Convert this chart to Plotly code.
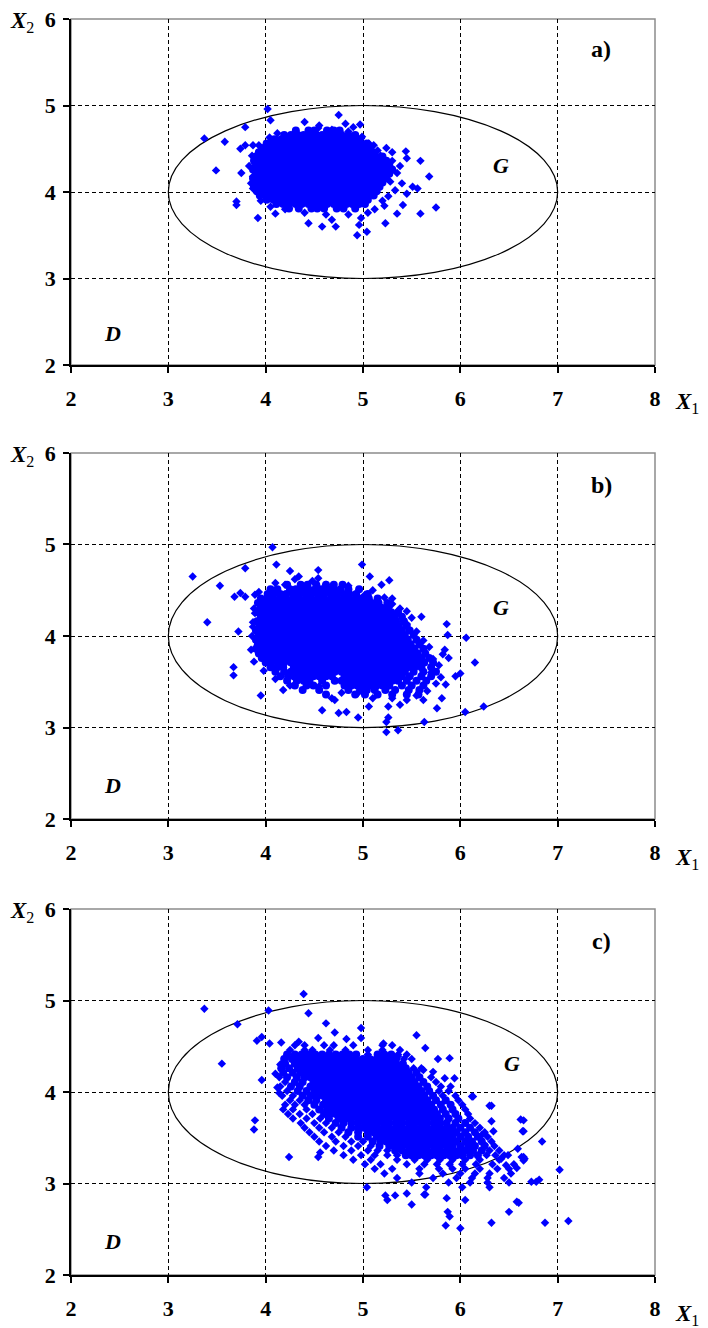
import plotly.graph_objects as go

# -----------------------------------------
# DATA
# -----------------------------------------
x_ticks = [2, 3, 4, 5, 6, 7, 8]
y_ticks = [2, 3, 4, 5, 6]
x_grid = [3, 4, 5, 6, 7]
y_grid = [3, 4, 5]

# region G is the ellipse inside this box
G_x = [3, 7]
G_y = [3, 5]

panel_names = ["a)", "b)", "c)"]

# panel a) - dense middle as rows (y, x positions), then the loose points
a_rows = [
    (4.71, [4.31, 4.44, 4.50, 4.63, 4.70, 4.76]),
    (4.66, [4.19, 4.26, 4.33, 4.39, 4.46, 4.52, 4.58, 4.65, 4.71, 4.78, 4.85, 4.92]),
    (4.61, [4.09, 4.16, 4.22, 4.29, 4.35, 4.42, 4.48, 4.55, 4.62, 4.68, 4.74, 4.81, 4.87, 4.94]),
    (4.56, [4.01, 4.07, 4.13, 4.20, 4.26, 4.33, 4.39, 4.46, 4.52, 4.59, 4.65, 4.72, 4.78, 4.85, 4.91, 4.98, 5.04]),
    (4.51, [3.96, 4.03, 4.10, 4.16, 4.23, 4.29, 4.36, 4.42, 4.49, 4.55, 4.62, 4.68, 4.75, 4.81, 4.88, 4.94, 5.01, 5.07]),
    (4.46, [3.93, 3.99, 4.06, 4.12, 4.19, 4.26, 4.32, 4.39, 4.45, 4.52, 4.58, 4.65, 4.71, 4.78, 4.84, 4.91, 4.97, 5.04, 5.10]),
    (4.41, [3.90, 3.96, 4.03, 4.09, 4.16, 4.22, 4.29, 4.35, 4.42, 4.48, 4.55, 4.61, 4.68, 4.74, 4.81, 4.87, 4.94, 5.00, 5.07, 5.13, 5.20]),
    (4.36, [3.88, 3.94, 4.01, 4.07, 4.14, 4.20, 4.27, 4.33, 4.40, 4.46, 4.53, 4.59, 4.66, 4.72, 4.79, 4.85, 4.92, 4.98, 5.05, 5.11, 5.18, 5.24]),
    (4.31, [3.90, 3.97, 4.03, 4.10, 4.16, 4.23, 4.29, 4.36, 4.42, 4.49, 4.55, 4.62, 4.68, 4.75, 4.81, 4.88, 4.94, 5.01, 5.07, 5.14, 5.20, 5.27]),
    (4.26, [3.87, 3.94, 4.00, 4.07, 4.13, 4.20, 4.26, 4.33, 4.39, 4.46, 4.52, 4.59, 4.65, 4.72, 4.78, 4.85, 4.91, 4.98, 5.04, 5.11, 5.17, 5.24, 5.30]),
    (4.21, [3.90, 3.97, 4.03, 4.10, 4.16, 4.23, 4.29, 4.36, 4.42, 4.49, 4.55, 4.62, 4.68, 4.75, 4.81, 4.88, 4.94, 5.01, 5.07, 5.14, 5.20, 5.27]),
    (4.16, [3.87, 3.94, 4.00, 4.07, 4.13, 4.20, 4.26, 4.33, 4.39, 4.46, 4.52, 4.59, 4.65, 4.72, 4.78, 4.85, 4.91, 4.98, 5.04, 5.11, 5.17, 5.24]),
    (4.11, [3.90, 3.97, 4.03, 4.10, 4.16, 4.23, 4.29, 4.36, 4.42, 4.49, 4.55, 4.62, 4.68, 4.75, 4.81, 4.88, 4.94, 5.01, 5.07, 5.14, 5.20]),
    (4.06, [3.88, 3.94, 4.00, 4.07, 4.13, 4.20, 4.26, 4.33, 4.39, 4.46, 4.52, 4.59, 4.65, 4.72, 4.78, 4.85, 4.91, 4.98, 5.04, 5.11, 5.17]),
    (4.01, [3.91, 3.97, 4.03, 4.10, 4.16, 4.23, 4.29, 4.36, 4.42, 4.49, 4.55, 4.62, 4.68, 4.75, 4.81, 4.88, 4.94, 5.01, 5.07, 5.14]),
    (3.96, [3.94, 4.00, 4.07, 4.13, 4.20, 4.26, 4.33, 4.39, 4.46, 4.52, 4.59, 4.65, 4.72, 4.78, 4.85, 4.91, 4.98, 5.04, 5.11]),
    (3.91, [4.01, 4.08, 4.14, 4.21, 4.27, 4.34, 4.40, 4.47, 4.53, 4.60, 4.66, 4.73, 4.79, 4.86, 4.92, 4.99, 5.05]),
    (3.86, [4.11, 4.18, 4.24, 4.31, 4.37, 4.44, 4.50, 4.57, 4.63, 4.70, 4.76, 4.83, 4.89, 4.96, 5.02]),
    (3.81, [4.24, 4.34, 4.47, 4.53, 4.60, 4.73, 4.80, 4.92]),
]
a_x = [4.02, 4.05, 3.37, 3.58, 3.79, 3.74, 3.79, 3.87, 3.49, 3.75, 3.70, 3.70, 3.92,
       4.75, 4.82, 4.90, 4.97, 4.40, 4.54, 4.99, 5.11, 5.24, 5.44, 5.45, 5.59, 5.68,
       5.51, 5.56, 5.75, 5.59, 5.41, 5.35, 5.23, 5.04, 4.94, 4.96, 4.72, 4.58, 4.44,
       4.68, 4.10, 3.87, 3.87,
       5.30, 5.35, 5.28, 5.33, 5.26, 5.20, 5.22, 5.12, 5.30, 5.15, 5.38, 5.40, 5.45,
       5.05, 4.98, 4.85, 4.62, 4.40, 4.20, 4.05, 3.95, 3.85, 3.83, 3.86, 3.93, 4.04,
       4.12, 4.55, 4.68, 4.85, 4.98, 5.06, 5.18]
a_y = [4.96, 4.83, 4.62, 4.58, 4.75, 4.50, 4.54, 4.54, 4.25, 4.22, 3.89, 3.85, 3.70,
       4.89, 4.79, 4.75, 4.78, 4.81, 4.74, 4.64, 4.54, 4.51, 4.47, 4.39, 4.36, 4.18,
       4.06, 4.04, 3.82, 3.75, 3.85, 3.75, 3.64, 3.54, 3.50, 3.62, 3.60, 3.60, 3.64,
       3.68, 3.75, 4.18, 4.04,
       4.36, 4.22, 4.12, 4.02, 3.95, 3.90, 3.84, 3.80, 4.46, 4.48, 4.30, 4.10, 3.98,
       3.76, 3.70, 3.74, 3.74, 3.76, 3.80, 3.83, 3.90, 4.10, 4.30, 4.42, 4.54, 4.63,
       4.68, 4.77, 4.72, 4.70, 4.62, 4.56, 4.42]

# panel b)
b_rows = [
    (4.56, [4.22, 4.36, 4.43, 4.52, 4.62, 4.70, 4.79]),
    (4.51, [4.05, 4.12, 4.25, 4.31, 4.38, 4.44, 4.51, 4.57, 4.64, 4.70, 4.77, 4.85, 4.96]),
    (4.46, [4.02, 4.08, 4.15, 4.21, 4.28, 4.34, 4.41, 4.47, 4.54, 4.60, 4.67, 4.73, 4.80, 4.86, 4.93, 5.05]),
    (4.41, [3.95, 4.02, 4.08, 4.15, 4.21, 4.28, 4.34, 4.41, 4.47, 4.54, 4.60, 4.67, 4.73, 4.80, 4.86, 4.93, 4.99, 5.06, 5.15]),
    (4.36, [3.92, 3.99, 4.05, 4.12, 4.18, 4.25, 4.31, 4.38, 4.44, 4.51, 4.57, 4.64, 4.70, 4.77, 4.83, 4.90, 4.96, 5.03, 5.09, 5.16, 5.25]),
    (4.31, [3.95, 4.02, 4.08, 4.15, 4.21, 4.28, 4.34, 4.41, 4.47, 4.54, 4.60, 4.67, 4.73, 4.80, 4.86, 4.93, 4.99, 5.06, 5.12, 5.19, 5.26]),
    (4.26, [3.92, 3.99, 4.05, 4.12, 4.18, 4.25, 4.31, 4.38, 4.44, 4.51, 4.57, 4.64, 4.70, 4.77, 4.83, 4.90, 4.96, 5.03, 5.09, 5.16, 5.22, 5.29, 5.36]),
    (4.21, [3.95, 4.02, 4.08, 4.15, 4.21, 4.28, 4.34, 4.41, 4.47, 4.54, 4.60, 4.67, 4.73, 4.80, 4.86, 4.93, 4.99, 5.06, 5.12, 5.19, 5.25, 5.32, 5.40]),
    (4.16, [3.91, 3.98, 4.04, 4.11, 4.17, 4.24, 4.30, 4.37, 4.43, 4.50, 4.56, 4.63, 4.69, 4.76, 4.82, 4.89, 4.95, 5.02, 5.08, 5.15, 5.21, 5.28, 5.34, 5.42]),
    (4.11, [3.94, 4.01, 4.07, 4.14, 4.20, 4.27, 4.33, 4.40, 4.46, 4.53, 4.59, 4.66, 4.72, 4.79, 4.85, 4.92, 4.98, 5.05, 5.11, 5.18, 5.24, 5.31, 5.37, 5.45]),
    (4.06, [3.90, 3.97, 4.03, 4.10, 4.16, 4.23, 4.29, 4.36, 4.42, 4.49, 4.55, 4.62, 4.68, 4.75, 4.81, 4.88, 4.94, 5.01, 5.07, 5.14, 5.20, 5.27, 5.33, 5.40, 5.48]),
    (4.01, [3.93, 4.00, 4.06, 4.13, 4.19, 4.26, 4.32, 4.39, 4.45, 4.52, 4.58, 4.65, 4.71, 4.78, 4.84, 4.91, 4.97, 5.04, 5.10, 5.17, 5.23, 5.30, 5.36, 5.43, 5.52]),
    (3.96, [3.90, 3.97, 4.03, 4.10, 4.16, 4.23, 4.29, 4.36, 4.42, 4.49, 4.55, 4.62, 4.68, 4.75, 4.81, 4.88, 4.94, 5.01, 5.07, 5.14, 5.20, 5.27, 5.33, 5.40, 5.46, 5.55]),
    (3.91, [3.92, 3.99, 4.06, 4.12, 4.19, 4.25, 4.32, 4.38, 4.45, 4.51, 4.58, 4.64, 4.71, 4.77, 4.84, 4.90, 4.97, 5.03, 5.10, 5.16, 5.23, 5.29, 5.36, 5.42, 5.49, 5.58]),
    (3.86, [3.90, 3.97, 4.03, 4.10, 4.16, 4.23, 4.29, 4.36, 4.42, 4.49, 4.55, 4.62, 4.68, 4.75, 4.81, 4.88, 4.94, 5.01, 5.07, 5.14, 5.20, 5.27, 5.33, 5.40, 5.46, 5.53, 5.62]),
    (3.81, [3.93, 4.00, 4.06, 4.13, 4.19, 4.26, 4.32, 4.39, 4.45, 4.52, 4.58, 4.65, 4.71, 4.78, 4.84, 4.91, 4.97, 5.04, 5.10, 5.17, 5.23, 5.30, 5.36, 5.43, 5.49, 5.56, 5.64]),
    (3.76, [3.96, 4.03, 4.10, 4.16, 4.23, 4.29, 4.36, 4.42, 4.49, 4.55, 4.62, 4.68, 4.75, 4.81, 4.88, 4.94, 5.01, 5.07, 5.14, 5.20, 5.27, 5.33, 5.40, 5.46, 5.53, 5.60, 5.68]),
    (3.71, [4.00, 4.06, 4.13, 4.19, 4.26, 4.32, 4.39, 4.45, 4.52, 4.58, 4.65, 4.71, 4.78, 4.84, 4.91, 4.97, 5.04, 5.10, 5.17, 5.23, 5.30, 5.36, 5.43, 5.49, 5.56, 5.63, 5.72]),
    (3.66, [4.05, 4.12, 4.18, 4.29, 4.36, 4.42, 4.49, 4.55, 4.62, 4.68, 4.75, 4.81, 4.88, 4.94, 5.01, 5.07, 5.14, 5.20, 5.27, 5.33, 5.40, 5.46, 5.53, 5.60, 5.70]),
    (3.61, [4.10, 4.19, 4.26, 4.32, 4.39, 4.45, 4.52, 4.58, 4.65, 4.71, 4.78, 4.84, 4.91, 4.97, 5.04, 5.10, 5.17, 5.23, 5.30, 5.36, 5.43, 5.52, 5.62, 5.75]),
    (3.56, [4.15, 4.23, 4.29, 4.36, 4.42, 4.49, 4.55, 4.62, 4.68, 4.81, 4.88, 4.94, 5.01, 5.07, 5.14, 5.20, 5.27, 5.33, 5.40, 5.48, 5.60, 5.70]),
    (3.51, [4.22, 4.32, 4.39, 4.45, 4.58, 4.71, 4.78, 4.84, 4.91, 4.97, 5.04, 5.10, 5.17, 5.23, 5.30, 5.36, 5.45, 5.55, 5.65]),
    (3.46, [4.30, 4.42, 4.49, 4.62, 4.81, 4.88, 4.94, 5.01, 5.07, 5.14, 5.20, 5.27, 5.40, 5.50, 5.62]),
    (3.41, [4.38, 4.55, 4.85, 4.97, 5.04, 5.12, 5.23, 5.33, 5.47, 5.58]),
    (3.36, [4.62, 4.92, 5.02, 5.15, 5.30, 5.45, 5.57]),
]
b_x = [4.07, 3.25, 3.53, 3.79, 4.11, 4.25, 4.34, 4.54, 4.54, 4.20, 4.99, 5.07, 5.19,
       5.27, 5.30, 5.45, 5.60, 5.86, 5.87, 6.06, 6.15, 5.84, 5.88, 5.95, 6.00, 5.81,
       5.76, 6.05, 5.63, 5.36, 5.24, 5.26, 5.24, 5.38, 5.26, 5.06, 4.95, 4.83, 4.75,
       4.58, 4.68, 4.71, 4.18, 3.95, 3.67, 3.67, 3.40, 3.72, 3.68, 3.74, 3.79, 3.89,
       3.89, 3.87, 6.24,
       5.50, 5.55, 5.62, 5.68, 5.72, 5.78, 5.80, 5.75, 5.66, 5.55, 5.62, 5.45, 5.30,
       5.10, 4.95, 4.78, 4.55, 4.25, 4.10, 3.98, 3.88, 3.85, 3.86, 3.87, 3.88, 3.93,
       4.10, 4.30, 4.48, 4.62, 4.85, 5.02, 5.10, 5.22, 5.30, 5.38, 5.45, 5.82, 5.70,
       5.85]
b_y = [4.97, 4.65, 4.55, 4.74, 4.78, 4.71, 4.65, 4.72, 4.63, 4.56, 4.78, 4.65, 4.56,
       4.61, 4.41, 4.27, 4.21, 4.13, 4.01, 3.98, 3.71, 3.85, 3.76, 3.56, 3.59, 3.32,
       3.21, 3.17, 3.06, 2.97, 2.95, 3.11, 3.06, 3.25, 3.23, 3.23, 3.11, 3.17, 3.16,
       3.19, 3.32, 3.30, 3.41, 3.35, 3.66, 3.57, 4.15, 4.05, 4.43, 4.47, 4.43, 4.45,
       4.25, 4.10, 3.23,
       4.20, 4.05, 3.95, 3.88, 3.75, 3.68, 3.55, 3.48, 3.40, 3.35, 3.30, 3.30, 3.32,
       3.32, 3.38, 3.38, 3.45, 3.46, 3.53, 3.62, 3.72, 3.85, 4.00, 4.15, 4.30, 4.48,
       4.58, 4.62, 4.60, 4.56, 4.55, 4.45, 4.50, 4.42, 4.35, 4.30, 4.13, 3.80, 3.60,
       3.47]

# panel c) - solid band, then the thinner rows at its ends, then loose points
c_rows = [
    (4.41, [4.22, 4.30, 4.37, 4.44, 4.51, 4.58, 4.65, 4.72, 4.79, 4.86, 4.93, 5.15, 5.22, 5.29]),
    (4.36, [4.19, 4.27, 4.34, 4.40, 4.47, 4.53, 4.60, 4.66, 4.73, 4.80, 4.86, 4.93, 5.00, 5.07, 5.14, 5.21, 5.27, 5.34]),
    (4.31, [4.20, 4.30, 4.37, 4.43, 4.50, 4.56, 4.63, 4.69, 4.76, 4.82, 4.89, 4.95, 5.02, 5.08, 5.15, 5.21, 5.28, 5.34, 5.41]),
    (4.26, [4.16, 4.24, 4.33, 4.40, 4.46, 4.53, 4.59, 4.66, 4.72, 4.79, 4.85, 4.92, 4.98, 5.05, 5.11, 5.18, 5.24, 5.31, 5.37, 5.44]),
    (4.21, [4.18, 4.28, 4.36, 4.43, 4.49, 4.56, 4.62, 4.69, 4.75, 4.82, 4.88, 4.95, 5.01, 5.08, 5.14, 5.21, 5.27, 5.34, 5.40, 5.47, 5.55]),
    (4.16, [4.22, 4.32, 4.40, 4.46, 4.53, 4.59, 4.66, 4.72, 4.79, 4.85, 4.92, 4.98, 5.05, 5.11, 5.18, 5.24, 5.31, 5.37, 5.44, 5.50, 5.58]),
    (4.11, [4.30, 4.38, 4.49, 4.56, 4.62, 4.69, 4.75, 4.82, 4.88, 4.95, 5.01, 5.08, 5.14, 5.21, 5.27, 5.34, 5.40, 5.47, 5.53, 5.62]),
    (4.06, [4.26, 4.35, 4.46, 4.53, 4.59, 4.66, 4.72, 4.79, 4.85, 4.92, 4.98, 5.05, 5.11, 5.18, 5.24, 5.31, 5.37, 5.44, 5.50, 5.57, 5.66]),
    (4.01, [4.33, 4.42, 4.50, 4.56, 4.62, 4.69, 4.75, 4.82, 4.88, 4.95, 5.01, 5.08, 5.14, 5.21, 5.27, 5.34, 5.40, 5.47, 5.53, 5.60, 5.68]),
    (3.96, [4.38, 4.46, 4.53, 4.59, 4.66, 4.72, 4.79, 4.85, 4.92, 4.98, 5.05, 5.11, 5.18, 5.24, 5.31, 5.37, 5.44, 5.50, 5.57, 5.63, 5.72]),
    (3.91, [4.44, 4.52, 4.62, 4.69, 4.75, 4.82, 4.88, 4.95, 5.01, 5.08, 5.14, 5.21, 5.27, 5.34, 5.40, 5.47, 5.53, 5.60, 5.66, 5.75, 5.85]),
    (3.86, [4.50, 4.59, 4.66, 4.72, 4.79, 4.85, 4.92, 4.98, 5.05, 5.11, 5.18, 5.24, 5.31, 5.37, 5.44, 5.50, 5.57, 5.63, 5.70, 5.80, 5.90]),
    (3.81, [4.55, 4.63, 4.69, 4.75, 4.82, 4.88, 4.95, 5.01, 5.08, 5.14, 5.21, 5.27, 5.34, 5.40, 5.47, 5.53, 5.60, 5.66, 5.73, 5.82, 5.92]),
    (3.76, [4.60, 4.66, 4.72, 4.79, 4.85, 4.92, 4.98, 5.05, 5.11, 5.18, 5.24, 5.31, 5.37, 5.44, 5.50, 5.57, 5.63, 5.70, 5.76, 5.85, 5.95]),
    (3.71, [4.65, 4.75, 4.82, 4.88, 4.95, 5.01, 5.08, 5.14, 5.21, 5.27, 5.34, 5.40, 5.47, 5.53, 5.60, 5.66, 5.73, 5.79, 5.88, 5.98]),
    (3.66, [4.72, 4.80, 4.88, 4.95, 5.02, 5.08, 5.14, 5.21, 5.27, 5.34, 5.40, 5.47, 5.53, 5.60, 5.66, 5.73, 5.79, 5.86, 5.95, 6.05]),
    (3.61, [4.78, 4.88, 4.95, 5.01, 5.08, 5.14, 5.21, 5.27, 5.34, 5.40, 5.47, 5.53, 5.60, 5.66, 5.73, 5.79, 5.86, 5.92, 6.00, 6.10]),
    (3.56, [4.85, 4.95, 5.05, 5.11, 5.18, 5.24, 5.31, 5.37, 5.44, 5.50, 5.57, 5.63, 5.70, 5.76, 5.83, 5.89, 5.96, 6.05, 6.15]),
    (3.51, [4.95, 5.05, 5.14, 5.21, 5.27, 5.34, 5.40, 5.47, 5.53, 5.60, 5.66, 5.73, 5.79, 5.86, 5.92, 6.00, 6.08, 6.18]),
    (3.46, [5.10, 5.18, 5.24, 5.31, 5.37, 5.44, 5.50, 5.57, 5.63, 5.70, 5.76, 5.83, 5.89, 5.96, 6.05, 6.12, 6.22]),
    (3.41, [5.17, 5.27, 5.34, 5.40, 5.47, 5.53, 5.60, 5.66, 5.73, 5.79, 5.86, 5.92, 6.00, 6.08, 6.15, 6.25]),
    (3.36, [5.33, 5.40, 5.47, 5.53, 5.60, 5.66, 5.73, 5.79, 5.86, 5.92, 5.99, 6.06, 6.13, 6.22]),
    (3.31, [5.44, 5.50, 5.57, 5.63, 5.70, 5.76, 5.83, 5.89, 5.96, 6.02, 6.10, 6.18]),
]
c_rows_thin = [
    (4.51, [4.30, 4.40, 4.60, 4.70, 4.90, 5.20, 5.30]),
    (4.46, [4.25, 4.40, 4.48, 4.66, 4.82, 5.05, 5.20, 5.38]),
    (4.41, [5.05, 5.36, 5.45]),
    (4.36, [5.42, 5.50]),
    (4.26, [5.52, 5.60]),
    (4.16, [4.14, 5.70]),
    (4.11, [4.20, 5.75]),
    (4.06, [4.15, 5.80, 5.90]),
    (4.01, [4.22, 5.78, 5.88]),
    (3.96, [4.17, 4.28, 5.82, 5.95]),
    (3.91, [4.25, 4.35, 5.98]),
    (3.86, [4.20, 4.30, 4.40, 6.02]),
    (3.81, [4.18, 4.28, 4.42, 6.05]),
    (3.76, [4.23, 4.35, 4.48, 6.08]),
    (3.71, [4.28, 4.42, 4.56, 6.10]),
    (3.66, [4.36, 4.50, 4.62, 6.15]),
    (3.61, [4.40, 4.55, 4.68, 6.20]),
    (3.56, [4.45, 4.60, 4.75, 6.25]),
    (3.51, [4.50, 4.68, 4.82, 6.28]),
    (3.46, [4.55, 4.72, 4.88, 5.00, 6.32]),
    (3.41, [4.62, 4.80, 4.95, 5.08, 6.35]),
    (3.36, [4.70, 4.88, 5.05, 5.15, 5.25, 6.30, 6.40]),
    (3.31, [4.80, 4.98, 5.12, 5.25, 5.35, 6.27, 6.36, 6.45]),
    (3.26, [4.90, 5.08, 5.35, 5.53, 5.66, 5.79, 5.92, 6.05, 6.20, 6.40]),
    (3.21, [5.02, 5.18, 5.45, 5.63, 5.76, 5.89, 6.02, 6.16, 6.33, 6.55]),
    (3.16, [5.12, 5.30, 5.58, 5.78, 5.92, 6.05, 6.20, 6.38, 6.50]),
    (3.11, [5.22, 5.58, 5.82, 6.00, 6.15, 6.30, 6.52]),
    (3.06, [5.35, 5.72, 5.96, 6.12, 6.28, 6.45]),
    (3.01, [5.50, 5.88, 6.10, 6.28, 6.50]),
    (2.96, [5.65, 6.02, 6.30]),
]
c_x = [4.39, 3.37, 4.03, 4.44, 3.71, 4.62, 4.71, 4.83, 4.98, 4.98, 4.54, 3.91, 3.96,
       4.04, 4.16, 4.34, 3.55, 5.55, 5.64, 5.77, 5.89, 5.84, 5.94, 5.62, 5.72, 5.36,
       5.21, 6.13, 6.30, 6.62, 6.64, 6.84, 6.81, 6.73, 3.96, 3.89, 3.88, 4.14, 4.24,
       4.54, 4.56, 5.04, 5.23, 5.33, 5.45, 5.63, 5.86, 6.05, 6.58, 5.50, 5.85, 6.00,
       5.87, 5.89, 6.32, 6.50, 6.60, 6.87, 7.11, 7.02, 6.65, 6.65, 6.65, 6.65, 6.32,
       6.12, 6.78, 5.25, 5.64, 4.15, 4.10, 4.12, 6.59, 6.49, 6.42, 6.47, 6.63, 6.66,
       6.58, 6.32, 6.34, 6.22, 6.25]
c_y = [5.07, 4.91, 4.89, 4.86, 4.74, 4.75, 4.65, 4.58, 4.70, 4.59, 4.59, 4.56, 4.60,
       4.53, 4.54, 4.55, 4.31, 4.62, 4.48, 4.36, 4.37, 4.15, 4.15, 4.24, 4.22, 4.39,
       4.53, 3.95, 3.85, 3.70, 3.57, 3.46, 3.04, 3.02, 4.13, 3.69, 3.59, 3.99, 3.29,
       3.29, 3.34, 2.96, 2.87, 2.87, 2.89, 2.88, 2.84, 2.82, 2.80, 2.77, 2.54, 2.51,
       2.69, 2.64, 2.57, 2.69, 2.79, 2.57, 2.59, 3.15, 3.69, 3.57, 3.29, 3.25, 3.85,
       3.95, 3.02, 2.82, 2.88, 4.30, 4.20, 4.05, 3.38, 3.31, 3.27, 3.20, 3.29, 3.27,
       3.17, 3.68, 3.57, 3.53, 3.42]


# -----------------------------------------
# HELPERS
# -----------------------------------------
def flatten(rows):
    px, py = [], []
    for y, row in rows:
        px += row
        py += [y] * len(row)
    return px, py


c_thin_x, c_thin_y = flatten(c_rows_thin)

serif = "Liberation Serif"
cores = [flatten(a_rows), flatten(b_rows), flatten(c_rows)]
loose = [(a_x, a_y), (b_x, b_y), (c_x + c_thin_x, c_y + c_thin_y)]
domains = [[0.7245, 1.0], [0.363, 0.6545], [0.0, 0.2914]]
blue = "#0000FF"
tick_font = dict(family=serif, size=22, color="black", weight="bold")

fig = go.Figure()
shapes = []
annotations = []

for i in range(3):
    n = "" if i == 0 else str(i + 1)
    xr, yr = "x" + n, "y" + n

    # solid middle of the cloud: round blobs so overlapping points leave no gaps
    fig.add_trace(go.Scatter(
        x=cores[i][0], y=cores[i][1], xaxis=xr, yaxis=yr, mode="markers",
        marker=dict(symbol="circle", size=8, color=blue, line=dict(width=0)),
        hoverinfo="skip", showlegend=False,
    ))
    fig.add_trace(go.Scatter(
        x=loose[i][0], y=loose[i][1], xaxis=xr, yaxis=yr, mode="markers",
        marker=dict(symbol="diamond", size=6.5, color=blue, line=dict(width=0)),
        hoverinfo="skip", showlegend=False,
    ))

    fig.layout["xaxis" + n] = dict(
        domain=[0, 1], range=[2, 8], anchor=yr, fixedrange=True, automargin=False,
        tickmode="array", tickvals=x_ticks, ticks="outside", ticklen=6,
        tickcolor="black", tickwidth=1.5, ticklabelstandoff=7,
        tickfont=tick_font, ticklabeloverflow="allow",
        showline=True, linecolor="black", linewidth=2,
        showgrid=False, zeroline=False,
        minor=dict(tickvals=x_grid, showgrid=True, gridcolor="black",
                   gridwidth=1, griddash="4px,3px", ticks=""),
    )
    fig.layout["yaxis" + n] = dict(
        domain=domains[i], range=[2, 6], anchor=xr, fixedrange=True, automargin=False,
        tickmode="array", tickvals=y_ticks, ticks="outside", ticklen=6,
        tickcolor="black", tickwidth=1.5, ticklabelstandoff=3,
        tickfont=tick_font, ticklabeloverflow="allow",
        showline=True, linecolor="black", linewidth=1.5,
        showgrid=False, zeroline=False,
        minor=dict(tickvals=y_grid, showgrid=True, gridcolor="black",
                   gridwidth=1, griddash="4px,3px", ticks=""),
    )

    # grey frame on top / right, ellipse G
    shapes.append(dict(type="rect", xref=xr + " domain", yref=yr + " domain",
                       x0=0, x1=1, y0=0, y1=1, line=dict(color="#8c8c8c", width=1.5),
                       layer="below"))
    shapes.append(dict(type="circle", xref=xr, yref=yr,
                       x0=G_x[0], x1=G_x[1], y0=G_y[0], y1=G_y[1],
                       line=dict(color="black", width=1.2), layer="between"))

    annotations += [
        dict(text="<b>" + panel_names[i] + "</b>", x=7.45, y=5.65, xref=xr, yref=yr,
             showarrow=False, font=dict(family=serif, size=24, color="black")),
        dict(text="<b><i>G</i></b>", x=6.42 if i < 2 else 6.53, y=4.31, xref=xr, yref=yr,
             showarrow=False, font=dict(family=serif, size=22, color="black")),
        dict(text="<b><i>D</i></b>", x=2.43, y=2.37, xref=xr, yref=yr,
             showarrow=False, font=dict(family=serif, size=22, color="black")),
        dict(text="<b><i>X</i></b><sub>2</sub>", x=-0.06, y=1.0,
             xanchor="right", yanchor="middle", yshift=-3,
             xref=xr + " domain", yref=yr + " domain", showarrow=False,
             font=dict(family=serif, size=23, color="black")),
        dict(text="<b><i>X</i></b><sub>1</sub>", x=1.03, y=-0.1,
             xanchor="left", yanchor="middle", yshift=-3,
             xref=xr + " domain", yref=yr + " domain", showarrow=False,
             font=dict(family=serif, size=23, color="black")),
    ]

# page body keeps an 8px margin, so the figure is 8px smaller and shifted up/left
fig.update_layout(
    width=700, height=1320,
    margin=dict(l=63, r=53, t=11, b=53, autoexpand=False),
    paper_bgcolor="white", plot_bgcolor="white",
    shapes=shapes, annotations=annotations,
    showlegend=False,
)

fig.write_html("out.html")
